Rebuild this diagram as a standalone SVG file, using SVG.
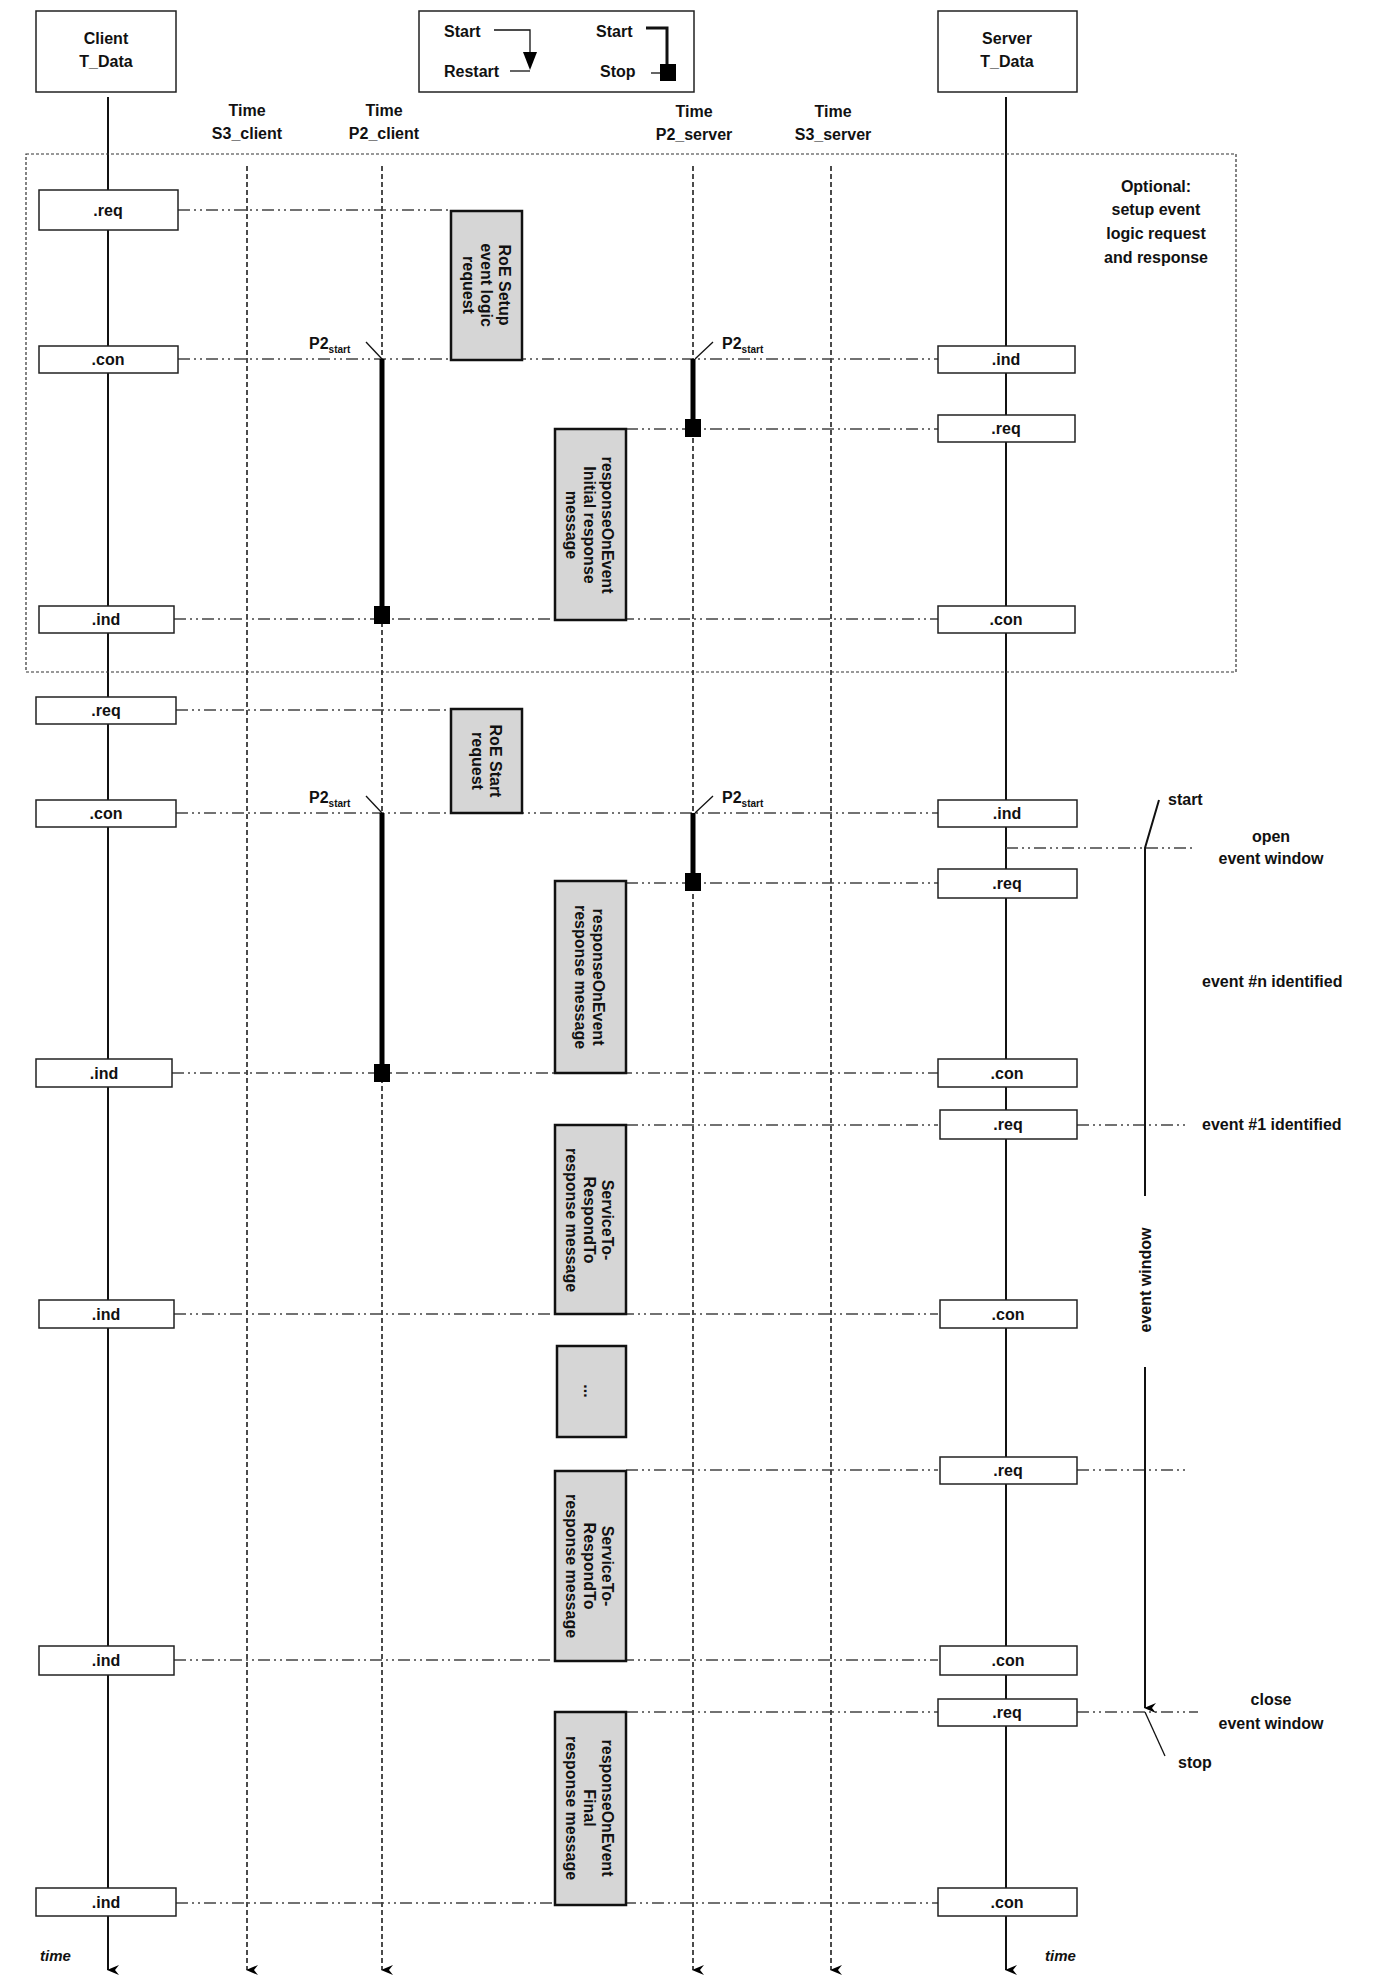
<svg xmlns="http://www.w3.org/2000/svg" width="1383" height="1981" viewBox="0 0 1383 1981">
<style>
text{font-family:"Liberation Sans",Arial,sans-serif;font-weight:bold;font-size:16px;fill:#111}
.c{text-anchor:middle}
.box{fill:#fff;stroke:#222;stroke-width:1.5}
.g{fill:#d6d6d6;stroke:#111;stroke-width:2.5}
.life{stroke:#111;stroke-width:2;fill:none}
.dl{stroke:#111;stroke-width:1.5;stroke-dasharray:5 3;fill:none}
.msg{stroke:#444;stroke-width:1.5;stroke-dasharray:12 4 2 4 2 4;fill:none}
.bar{stroke:#000;stroke-width:5}
.thin{stroke:#111;stroke-width:1.3;fill:none}
.it{font-style:italic;font-size:15px}
.sub{font-size:10px}
</style>
<defs>
<marker id="ah" markerWidth="10" markerHeight="12" refX="5" refY="11" orient="auto-start-reverse" markerUnits="userSpaceOnUse" viewBox="0 0 10 12"><path d="M0,0 L5,12 L10,0 L5,4 Z" fill="#000"/></marker>
</defs>
<g id="lifelines">
<line class="life" x1="108" y1="97" x2="108" y2="1970" marker-end="url(#ah)"/>
<line class="life" x1="1006" y1="97" x2="1006" y2="1970" marker-end="url(#ah)"/>
<line class="dl" x1="247" y1="166" x2="247" y2="1970" marker-end="url(#ah)"/>
<line class="dl" x1="382" y1="166" x2="382" y2="1970" marker-end="url(#ah)"/>
<line class="dl" x1="693" y1="166" x2="693" y2="1970" marker-end="url(#ah)"/>
<line class="dl" x1="831" y1="166" x2="831" y2="1970" marker-end="url(#ah)"/>
</g>
<rect x="26" y="154" width="1210" height="518" fill="none" stroke="#333" stroke-width="1.2" stroke-dasharray="3 2"/>
<g id="connectors">
<line class="msg" x1="178" y1="210" x2="451" y2="210"/>
<line class="msg" x1="178" y1="359" x2="938" y2="359"/>
<line class="msg" x1="626" y1="429" x2="938" y2="429"/>
<line class="msg" x1="174" y1="619" x2="938" y2="619"/>
<line class="msg" x1="176" y1="710" x2="451" y2="710"/>
<line class="msg" x1="176" y1="813" x2="938" y2="813"/>
<line class="msg" x1="1006" y1="848" x2="1195" y2="848"/>
<line class="msg" x1="626" y1="883" x2="938" y2="883"/>
<line class="msg" x1="172" y1="1073" x2="938" y2="1073"/>
<line class="msg" x1="626" y1="1125" x2="938" y2="1125"/>
<line class="msg" x1="1077" y1="1125" x2="1188" y2="1125"/>
<line class="msg" x1="174" y1="1314" x2="938" y2="1314"/>
<line class="msg" x1="626" y1="1470" x2="938" y2="1470"/>
<line class="msg" x1="1077" y1="1470" x2="1185" y2="1470"/>
<line class="msg" x1="174" y1="1660" x2="938" y2="1660"/>
<line class="msg" x1="626" y1="1712" x2="938" y2="1712"/>
<line class="msg" x1="1077" y1="1712" x2="1198" y2="1712"/>
<line class="msg" x1="176" y1="1903" x2="938" y2="1903"/>
</g>
<g id="timers">
<line class="bar" x1="382" y1="359" x2="382" y2="612"/><rect x="374" y="606" width="16" height="18" fill="#000"/>
<line class="bar" x1="693" y1="359" x2="693" y2="422"/><rect x="685" y="419" width="16" height="18" fill="#000"/>
<line class="thin" x1="366" y1="342" x2="382" y2="359"/><line class="thin" x1="713" y1="342" x2="695" y2="359"/>
<text x="309" y="349">P2<tspan class="sub" dy="4">start</tspan></text>
<text x="722" y="349">P2<tspan class="sub" dy="4">start</tspan></text>
<line class="bar" x1="382" y1="813" x2="382" y2="1066"/><rect x="374" y="1064" width="16" height="18" fill="#000"/>
<line class="bar" x1="693" y1="813" x2="693" y2="876"/><rect x="685" y="873" width="16" height="18" fill="#000"/>
<line class="thin" x1="366" y1="796" x2="382" y2="813"/><line class="thin" x1="713" y1="796" x2="695" y2="813"/>
<text x="309" y="803">P2<tspan class="sub" dy="4">start</tspan></text>
<text x="722" y="803">P2<tspan class="sub" dy="4">start</tspan></text>
</g>
<g id="client"><rect class="box" x="36" y="11" width="140" height="81"/><text class="c" x="106" y="44">Client</text><text class="c" x="106" y="67">T_Data</text></g>
<g id="server"><rect class="box" x="938" y="11" width="139" height="81"/><text class="c" x="1007" y="44">Server</text><text class="c" x="1007" y="67">T_Data</text></g>
<g id="legend"><rect class="box" x="419" y="11" width="275" height="81"/>
<text x="444" y="37">Start</text><text x="444" y="77">Restart</text>
<polyline class="thin" points="494,30 530,30 530,60"/><polygon points="523,52 530,70 537,52" fill="#000"/>
<line class="thin" x1="510" y1="71" x2="530" y2="71"/>
<text x="596" y="37">Start</text><text x="600" y="77">Stop</text>
<polyline class="thin" points="646,28 667,28 667,70" style="stroke-width:3"/><rect x="660" y="64" width="16" height="17" fill="#000"/>
<line class="thin" x1="651" y1="73" x2="660" y2="73"/>
</g>
<g id="timelabels">
<text class="c" x="247" y="116">Time</text><text class="c" x="247" y="139">S3_client</text>
<text class="c" x="384" y="116">Time</text><text class="c" x="384" y="139">P2_client</text>
<text class="c" x="694" y="117">Time</text><text class="c" x="694" y="140">P2_server</text>
<text class="c" x="833" y="117">Time</text><text class="c" x="833" y="140">S3_server</text>
</g>
<g id="optional"><text class="c" x="1156" y="192">Optional:</text><text class="c" x="1156" y="215">setup event</text><text class="c" x="1156" y="239">logic request</text><text class="c" x="1156" y="263">and response</text></g>
<g id="cboxes">
<rect class="box" x="39" y="190" width="139" height="40"/><text class="c" x="108" y="216">.req</text>
<rect class="box" x="39" y="346" width="139" height="27"/><text class="c" x="108" y="365">.con</text>
<rect class="box" x="39" y="606" width="135" height="27"/><text class="c" x="106" y="625">.ind</text>
<rect class="box" x="36" y="697" width="140" height="27"/><text class="c" x="106" y="716">.req</text>
<rect class="box" x="36" y="800" width="140" height="27"/><text class="c" x="106" y="819">.con</text>
<rect class="box" x="36" y="1059" width="136" height="28"/><text class="c" x="104" y="1079">.ind</text>
<rect class="box" x="39" y="1300" width="135" height="28"/><text class="c" x="106" y="1320">.ind</text>
<rect class="box" x="39" y="1646" width="135" height="29"/><text class="c" x="106" y="1666">.ind</text>
<rect class="box" x="36" y="1888" width="140" height="28"/><text class="c" x="106" y="1908">.ind</text>
</g>
<g id="sboxes">
<rect class="box" x="938" y="346" width="137" height="27"/><text class="c" x="1006" y="365">.ind</text>
<rect class="box" x="938" y="415" width="137" height="27"/><text class="c" x="1006" y="434">.req</text>
<rect class="box" x="938" y="606" width="137" height="27"/><text class="c" x="1006" y="625">.con</text>
<rect class="box" x="938" y="800" width="139" height="27"/><text class="c" x="1007" y="819">.ind</text>
<rect class="box" x="938" y="869" width="139" height="29"/><text class="c" x="1007" y="889">.req</text>
<rect class="box" x="938" y="1059" width="139" height="28"/><text class="c" x="1007" y="1079">.con</text>
<rect class="box" x="940" y="1110" width="137" height="29"/><text class="c" x="1008" y="1130">.req</text>
<rect class="box" x="940" y="1300" width="137" height="28"/><text class="c" x="1008" y="1320">.con</text>
<rect class="box" x="940" y="1457" width="137" height="27"/><text class="c" x="1008" y="1476">.req</text>
<rect class="box" x="940" y="1646" width="137" height="29"/><text class="c" x="1008" y="1666">.con</text>
<rect class="box" x="938" y="1699" width="139" height="27"/><text class="c" x="1007" y="1718">.req</text>
<rect class="box" x="938" y="1888" width="139" height="28"/><text class="c" x="1007" y="1908">.con</text>
</g>
<g id="msgs">
<g id="m1"><rect class="g" x="451" y="211" width="71" height="149"/><g transform="translate(487,285) rotate(90)"><text class="c" y="-12">RoE Setup</text><text class="c" y="6">event logic</text><text class="c" y="24">request</text></g></g>
<g id="m2"><rect class="g" x="555" y="429" width="71" height="191"/><g transform="translate(590,525) rotate(90)"><text class="c" y="-12">responseOnEvent</text><text class="c" y="6">Initial response</text><text class="c" y="24">message</text></g></g>
<g id="m3"><rect class="g" x="451" y="709" width="71" height="104"/><g transform="translate(487,761) rotate(90)"><text class="c" y="-3">RoE Start</text><text class="c" y="15">request</text></g></g>
<g id="m4"><rect class="g" x="555" y="881" width="71" height="192"/><g transform="translate(590,977) rotate(90)"><text class="c" y="-3">responseOnEvent</text><text class="c" y="15">response message</text></g></g>
<g id="m5"><rect class="g" x="555" y="1125" width="71" height="189"/><g transform="translate(590,1220) rotate(90)"><text class="c" y="-12">ServiceTo-</text><text class="c" y="6">RespondTo</text><text class="c" y="24">response message</text></g></g>
<g id="m6"><rect class="g" x="557" y="1346" width="69" height="91"/><g transform="translate(590,1391) rotate(90)"><text class="c" y="6">...</text></g></g>
<g id="m7"><rect class="g" x="555" y="1471" width="71" height="190"/><g transform="translate(590,1566) rotate(90)"><text class="c" y="-12">ServiceTo-</text><text class="c" y="6">RespondTo</text><text class="c" y="24">response message</text></g></g>
<g id="m8"><rect class="g" x="555" y="1712" width="71" height="193"/><g transform="translate(590,1808) rotate(90)"><text class="c" y="-12">responseOnEvent</text><text class="c" y="6">Final</text><text class="c" y="24">response message</text></g></g>
</g>
<g id="eventwindow">
<polyline class="thin" points="1159,800 1145,848 1145,1196" style="stroke-width:2"/>
<line class="thin" x1="1145" y1="1367" x2="1145" y2="1708" style="stroke-width:2" marker-end="url(#ah)"/>
<line class="thin" x1="1145" y1="1712" x2="1165" y2="1756"/>
<g transform="translate(1145,1280) rotate(-90)"><text class="c" y="6">event window</text></g>
<text x="1168" y="805">start</text>
<text class="c" x="1271" y="842">open</text><text class="c" x="1271" y="864">event window</text>
<text x="1202" y="987">event #n identified</text>
<text x="1202" y="1130">event #1 identified</text>
<text class="c" x="1271" y="1705">close</text><text class="c" x="1271" y="1729">event window</text>
<text x="1178" y="1768">stop</text>
</g>
<text class="it" x="40" y="1961">time</text>
<text class="it" x="1045" y="1961">time</text>
</svg>
